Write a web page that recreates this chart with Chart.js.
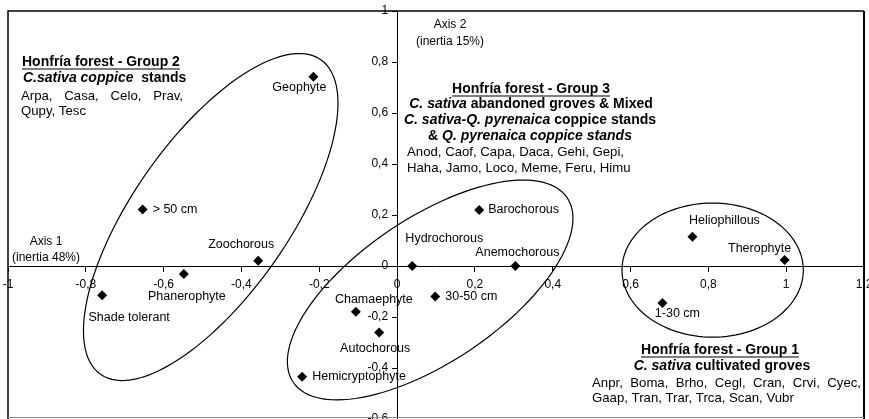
<!DOCTYPE html>
<html>
<head>
<meta charset="utf-8">
<script src="https://cdn.jsdelivr.net/npm/chart.js@4.4.1/dist/chart.umd.min.js"></script>
<style>
  body { margin: 0; background: #fff; }
  canvas { display: block; }
</style>
</head>
<body>
<canvas id="myChart" width="869" height="419"></canvas>
<script>
const traits = ["Geophyte", "> 50 cm", "Zoochorous", "Phanerophyte", "Shade tolerant",
  "Barochorous", "Hydrochorous", "Anemochorous", "30-50 cm", "Chamaephyte",
  "Autochorous", "Hemicryptophyte", "Heliophillous", "Therophyte", "1-30 cm"];
const axis1 = [-0.215, -0.654, -0.357, -0.548, -0.758, 0.211, 0.039, 0.304, 0.098, -0.106, -0.046, -0.244, 0.759, 0.996, 0.682];
const axis2 = [0.742, 0.222, 0.021, -0.031, -0.115, 0.22, 0, 0, -0.12, -0.179, -0.261, -0.434, 0.115, 0.024, -0.145];

// label offset from the marker in px: [dx, dy, align]
const labelPos = [[-14, 11, "center"], [10, 0, "left"], [-17, -16, "center"], [3, 23, "center"], [27, 22, "center"],
  [9, 0, "left"], [32, -27, "center"], [2, -13, "center"], [10, 0, "left"], [18, -12, "center"],
  [-4, 16, "center"], [10, 0, "left"], [32, -16, "center"], [-25, -11, "center"], [15, 11, "center"]];

// group ellipses in data units: centre, half axis u, half axis v
const groupCentres = [[-0.479, 0.192], [0.085, -0.094], [0.811, -0.016]];
const groupAxisU = [[0.283, 0.617], [0.352, 0.362], [0.233, 0]];
const groupAxisV = [[0.164, -0.175], [0.104, -0.234], [0, 0.263]];

const FONT = '"Liberation Sans", Arial, Helvetica, sans-serif';
const fmt = (v) => String(Math.round(v * 10) / 10).replace(".", ",");

const ctx = document.getElementById("myChart").getContext("2d");

function rich(c, parts, x, y, align) {
  let w = 0;
  parts.forEach((p) => { c.font = p[1]; w += c.measureText(p[0]).width; });
  let cx = align === "center" ? x - w / 2 : x;
  const left = cx;
  c.textAlign = "left";
  parts.forEach((p) => { c.font = p[1]; c.fillText(p[0], cx, y); cx += c.measureText(p[0]).width; });
  return { left: left, width: w };
}

function underline(c, box, y) {
  c.beginPath();
  c.lineWidth = 1.2;
  c.moveTo(box.left, y);
  c.lineTo(box.left + box.width, y);
  c.stroke();
}

function justify(c, words, x0, x1, y, font) {
  c.font = font;
  c.textAlign = "left";
  let total = 0;
  words.forEach((w) => (total += c.measureText(w).width));
  const gap = (x1 - x0 - total) / (words.length - 1);
  let x = x0;
  words.forEach((w) => { c.fillText(w, x, y); x += c.measureText(w).width + gap; });
}

// centred axes should not push the plot area in
const noPad = (scale) => {
  scale.paddingLeft = 0;
  scale.paddingRight = 0;
  scale.paddingTop = 0;
  scale.paddingBottom = 0;
};

const extras = {
  id: "extras",
  beforeDatasetsDraw(chart) {
    const c = chart.ctx, xs = chart.scales.x, ys = chart.scales.y;
    c.save();
    c.strokeStyle = "#000";
    c.lineWidth = 1.2;
    groupCentres.forEach((cen, g) => {
      c.beginPath();
      for (let i = 0; i <= 120; i++) {
        const t = (i / 120) * Math.PI * 2;
        const vx = cen[0] + Math.cos(t) * groupAxisU[g][0] + Math.sin(t) * groupAxisV[g][0];
        const vy = cen[1] + Math.cos(t) * groupAxisU[g][1] + Math.sin(t) * groupAxisV[g][1];
        const px = xs.getPixelForValue(vx), py = ys.getPixelForValue(vy);
        if (i === 0) c.moveTo(px, py); else c.lineTo(px, py);
      }
      c.closePath();
      c.stroke();
    });
    c.restore();
  },
  afterDraw(chart) {
    const c = chart.ctx, a = chart.chartArea, xs = chart.scales.x, ys = chart.scales.y;
    c.save();
    c.fillStyle = "#000";
    c.strokeStyle = "#000";
    c.textBaseline = "middle";

    // y tick labels
    const ax = xs.getPixelForValue(0);
    c.font = "12px " + FONT;
    c.textAlign = "right";
    ys.ticks.forEach((t) => c.fillText(fmt(t.value), ax - 9, ys.getPixelForValue(t.value)));

    // point labels
    const meta = chart.getDatasetMeta(0);
    c.font = "12.5px " + FONT;
    meta.data.forEach((pt, i) => {
      const p = labelPos[i];
      c.textAlign = p[2];
      c.fillText(traits[i], pt.x + p[0], pt.y + p[1]);
    });

    // axis titles
    c.font = "12px " + FONT;
    c.textAlign = "center";
    c.fillText("Axis 2", 450, 25);
    c.fillText("(inertia 15%)", 450, 42);
    c.fillText("Axis 1", 46, 242);
    c.fillText("(inertia 48%)", 46, 258);

    const B = "bold 14px " + FONT, BI = "italic bold 14px " + FONT, R = "13.2px " + FONT;

    // group 2
    let box = rich(c, [["Honfría forest - Group 2", B]], 22, 62, "left");
    underline(c, box, 69);
    rich(c, [["C.sativa coppice", BI], ["  stands", B]], 23, 78, "left");
    justify(c, ["Arpa,", "Casa,", "Celo,", "Prav,"], 21, 183, 96, R);
    rich(c, [["Qupy, Tesc", R]], 21, 111, "left");

    // group 3
    box = rich(c, [["Honfría forest - Group 3", B]], 531, 89, "center");
    underline(c, box, 96);
    rich(c, [["C. sativa", BI], [" abandoned groves & Mixed", B]], 531, 104, "center");
    rich(c, [["C. sativa-Q. pyrenaica", BI], [" coppice stands", B]], 530, 120, "center");
    rich(c, [["& ", B], ["Q. pyrenaica coppice stands", BI]], 530, 136, "center");
    rich(c, [["Anod, Caof, Capa, Daca, Gehi, Gepi,", R]], 407, 152, "left");
    rich(c, [["Haha, Jamo, Loco, Meme, Feru, Himu", R]], 407, 168, "left");

    // group 1
    box = rich(c, [["Honfría forest - Group 1", B]], 720, 350, "center");
    underline(c, box, 357);
    rich(c, [["C. sativa", BI], [" cultivated groves", B]], 722, 366, "center");
    justify(c, ["Anpr,", "Boma,", "Brho,", "Cegl,", "Cran,", "Crvi,", "Cyec,"], 592, 861, 383, R);
    rich(c, [["Gaap, Tran, Trar, Trca, Scan, Vubr", R]], 592, 398, "left");

    // plot frame
    c.lineWidth = 1.5;
    c.beginPath();
    c.moveTo(a.left, a.bottom);
    c.lineTo(a.left, a.top);
    c.lineTo(a.right, a.top);
    c.stroke();
    c.lineWidth = 2;
    c.beginPath();
    c.moveTo(a.right, a.top);
    c.lineTo(a.right, a.bottom);
    c.stroke();
    c.strokeStyle = "#888";
    c.lineWidth = 1;
    c.beginPath();
    c.moveTo(a.left, 417.5);
    c.lineTo(a.right, 417.5);
    c.stroke();
    c.restore();
  },
};

const myChart = new Chart(ctx, {
  type: "scatter",
  data: {
    datasets: [
      {
        label: "Traits",
        data: axis1.map((v, i) => ({ x: v, y: axis2[i] })),
        pointStyle: "rectRot",
        pointRadius: 5,
        pointHoverRadius: 5,
        backgroundColor: "#000",
        borderColor: "#000",
        borderWidth: 0,
      },
    ],
  },
  options: {
    responsive: false,
    animation: false,
    layout: { autoPadding: false, padding: { left: 8, right: 5, top: 11, bottom: 0 } },
    plugins: { legend: { display: false }, tooltip: { enabled: false } },
    scales: {
      x: {
        type: "linear",
        min: -1,
        max: 1.2,
        position: { y: 0 },
        afterFit: noPad,
        ticks: {
          stepSize: 0.2,
          autoSkip: false,
          maxRotation: 0,
          padding: 6,
          color: "#000",
          font: { size: 12, family: FONT },
          callback: (v) => fmt(v),
        },
        grid: { drawOnChartArea: false, drawTicks: true, tickLength: 5, color: "#000" },
        border: { display: true, color: "#000", width: 1 },
      },
      y: {
        type: "linear",
        min: -0.6,
        max: 1,
        position: { x: 0 },
        afterFit: noPad,
        ticks: { stepSize: 0.2, display: false },
        grid: { drawOnChartArea: false, drawTicks: true, tickLength: 5, color: "#000" },
        border: { display: true, color: "#000", width: 1 },
      },
    },
  },
  plugins: [extras],
});
</script>
</body>
</html>
